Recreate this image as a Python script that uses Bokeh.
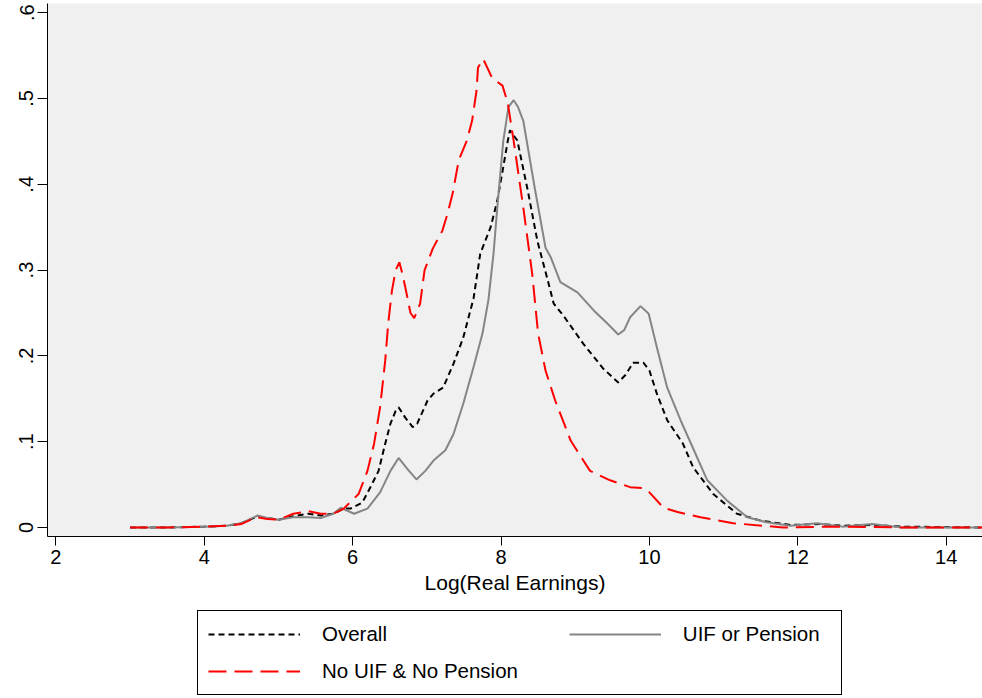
from bokeh.plotting import figure
from bokeh.layouts import column
from bokeh.models import Range1d, FixedTicker, Legend, LegendItem
from bokeh.embed import file_html
from bokeh.resources import INLINE

# ---- data ----
overall_x = [3.0, 3.5, 4.0, 4.3, 4.5, 4.72, 4.85, 5.0, 5.2, 5.4, 5.57, 5.74, 5.88, 5.97,
             6.13, 6.24, 6.35, 6.44, 6.51, 6.58, 6.62, 6.71, 6.81, 6.87, 7.01, 7.09, 7.22,
             7.36, 7.49, 7.63, 7.72, 7.86, 7.95, 8.03, 8.09, 8.12, 8.22, 8.36, 8.49, 8.63,
             8.71, 8.84, 9.11, 9.38, 9.58, 9.68, 9.78, 9.92, 10.0, 10.1, 10.24, 10.45, 10.59,
             10.86, 11.18, 11.5, 11.9, 12.3, 12.6, 13.0, 13.4, 14.5]
overall_y = [0.0, 0.0, 0.001, 0.002, 0.005, 0.013, 0.011, 0.009, 0.013, 0.016, 0.014, 0.016,
             0.022, 0.022, 0.029, 0.047, 0.066, 0.098, 0.121, 0.136, 0.140, 0.128, 0.117,
             0.121, 0.148, 0.156, 0.163, 0.191, 0.221, 0.267, 0.319, 0.350, 0.381, 0.420,
             0.450, 0.463, 0.451, 0.393, 0.334, 0.288, 0.261, 0.247, 0.214, 0.185, 0.169,
             0.178, 0.192, 0.192, 0.183, 0.156, 0.125, 0.098, 0.070, 0.039, 0.016, 0.008,
             0.003, 0.004, 0.002, 0.003, 0.001, 0.0]

uif_x = [3.0, 3.5, 4.0, 4.3, 4.5, 4.72, 4.85, 5.0, 5.2, 5.4, 5.57, 5.74, 5.84, 6.02, 6.2,
         6.37, 6.51, 6.62, 6.74, 6.86, 6.98, 7.09, 7.25, 7.36, 7.49, 7.63, 7.75, 7.83, 7.9,
         7.95, 8.03, 8.1, 8.17, 8.23, 8.3, 8.46, 8.6, 8.67, 8.8, 9.03, 9.25, 9.43, 9.58,
         9.66, 9.74, 9.88, 9.99, 10.1, 10.24, 10.42, 10.6, 10.78, 11.05, 11.32, 11.58, 11.9,
         12.26, 12.6, 13.0, 13.4, 14.5]
uif_y = [0.0, 0.0, 0.001, 0.002, 0.005, 0.014, 0.011, 0.009, 0.012, 0.012, 0.011, 0.016,
         0.023, 0.016, 0.022, 0.041, 0.066, 0.081, 0.068, 0.056, 0.066, 0.078, 0.090, 0.109,
         0.144, 0.187, 0.226, 0.265, 0.320, 0.373, 0.450, 0.490, 0.498, 0.490, 0.474, 0.393,
         0.326, 0.315, 0.286, 0.274, 0.253, 0.238, 0.225, 0.230, 0.245, 0.258, 0.249, 0.210,
         0.163, 0.125, 0.090, 0.055, 0.031, 0.012, 0.006, 0.002, 0.005, 0.001, 0.004, 0.0,
         0.0]

nouif_x = [3.0, 3.5, 4.0, 4.3, 4.5, 4.7, 4.85, 5.0, 5.2, 5.4, 5.57, 5.74, 5.88, 5.95, 6.08,
           6.2, 6.29, 6.37, 6.44, 6.48, 6.53, 6.58, 6.63, 6.67, 6.71, 6.78, 6.83, 6.91, 6.97,
           7.08, 7.21, 7.28, 7.35, 7.43, 7.54, 7.61, 7.67, 7.69, 7.76, 7.88, 8.02, 8.09, 8.17,
           8.3, 8.42, 8.5, 8.6, 8.73, 8.94, 9.2, 9.47, 9.74, 9.9, 10.0, 10.19, 10.38, 10.69,
           11.13, 11.8, 12.5, 13.5, 14.5]
nouif_y = [0.0, 0.0, 0.001, 0.002, 0.004, 0.012, 0.010, 0.009, 0.016, 0.019, 0.016, 0.016,
           0.022, 0.028, 0.039, 0.066, 0.098, 0.140, 0.195, 0.238, 0.276, 0.300, 0.309,
           0.296, 0.280, 0.250, 0.244, 0.261, 0.300, 0.325, 0.346, 0.366, 0.390, 0.428,
           0.451, 0.474, 0.509, 0.536, 0.546, 0.524, 0.515, 0.495, 0.451, 0.373, 0.296,
           0.226, 0.183, 0.148, 0.101, 0.066, 0.055, 0.047, 0.046, 0.041, 0.023, 0.018,
           0.012, 0.005, 0.0, 0.001, 0.0, 0.0]

x_ticks = [2, 4, 6, 8, 10, 12, 14]
y_ticks = [0, 0.1, 0.2, 0.3, 0.4, 0.5, 0.6]
y_tick_labels = ["0", ".1", ".2", ".3", ".4", ".5", ".6"]
series_labels = ["Overall", "UIF or Pension", "No UIF & No Pension"]
x_title = "Log(Real Earnings)"

FONT = "Liberation Sans"
STYLES = [dict(line_color="black", line_width=2, line_dash="6 4"),
          dict(line_color="#858585", line_width=2),
          dict(line_color="#ff0000", line_width=2, line_dash="18 8")]

p = figure(frame_width=935, frame_height=533, output_backend="svg", toolbar_location=None,
           x_range=Range1d(1.888, 14.489), y_range=Range1d(-0.0105, 0.6107),
           min_border_left=47, min_border_right=0, min_border_top=3, min_border_bottom=64)
p.background_fill_color = "#f0f0f0"
p.border_fill_color = "white"
p.outline_line_color = None
p.grid.visible = False

p.line(overall_x, overall_y, **STYLES[0])
p.line(uif_x, uif_y, **STYLES[1])
p.line(nouif_x, nouif_y, **STYLES[2])

xa = p.xaxis[0]
xa.ticker = FixedTicker(ticks=x_ticks)
xa.axis_label = x_title
xa.axis_label_text_font = FONT
xa.axis_label_text_font_size = "21px"
xa.axis_label_text_font_style = "normal"
xa.axis_label_text_color = "black"
xa.axis_label_standoff = 4
xa.major_label_text_font = FONT
xa.major_label_text_font_size = "20px"
xa.major_label_text_color = "black"
xa.major_label_standoff = 4
xa.major_tick_out = 9
xa.major_tick_in = 0
xa.minor_tick_out = 0
xa.minor_tick_in = 0
xa.axis_line_color = "black"
xa.major_tick_line_color = "black"

ya = p.yaxis[0]
ya.ticker = FixedTicker(ticks=y_ticks)
ya.major_label_overrides = {t: l for t, l in zip(y_ticks, y_tick_labels)}
ya.major_label_orientation = "vertical"
ya.major_label_text_font = FONT
ya.major_label_text_font_size = "20px"
ya.major_label_text_color = "black"
ya.major_label_standoff = 4
ya.major_tick_out = 10
ya.major_tick_in = 0
ya.minor_tick_out = 0
ya.minor_tick_in = 0
ya.axis_line_color = "black"
ya.major_tick_line_color = "black"

# ---- legend strip (separate figure so that the legend box is not clipped) ----
# the same series are drawn there, but fall outside its (0..1) range, so only
# their legend samples show
q = figure(width=982, height=98, output_backend="svg", toolbar_location=None,
           x_range=Range1d(0, 1), y_range=Range1d(0, 1),
           x_axis_location=None, y_axis_location=None, min_border=0)
q.outline_line_color = None
q.grid.visible = False
q.background_fill_color = "white"
q.border_fill_color = "white"
k1 = q.line(overall_x, overall_y, **STYLES[0])
k2 = q.line(uif_x, uif_y, **STYLES[1])
k3 = q.line(nouif_x, nouif_y, **STYLES[2])

# column-major fill: column 1 = Overall / No UIF & No Pension, column 2 = UIF or Pension
legend = Legend(items=[LegendItem(label=series_labels[0], renderers=[k1]),
                       LegendItem(label=series_labels[2] + "\u00a0" * 7, renderers=[k3]),
                       LegendItem(label=series_labels[1] + "\u00a0" * 2, renderers=[k2])],
                ncols=2, location=(150, 3))
legend.label_text_font = FONT
legend.label_text_font_size = "20.5px"
legend.label_text_color = "black"
legend.glyph_width = 92
legend.glyph_height = 26
legend.label_height = 26
legend.label_width = 0
legend.label_standoff = 22
legend.spacing = 11
legend.padding = 10
legend.margin = 0
legend.border_line_color = "black"
legend.border_line_alpha = 1.0
legend.border_line_width = 1
legend.background_fill_color = "white"
q.add_layout(legend)

layout = column(p, q, spacing=0)
open("out.html", "w").write(file_html(layout, INLINE))
